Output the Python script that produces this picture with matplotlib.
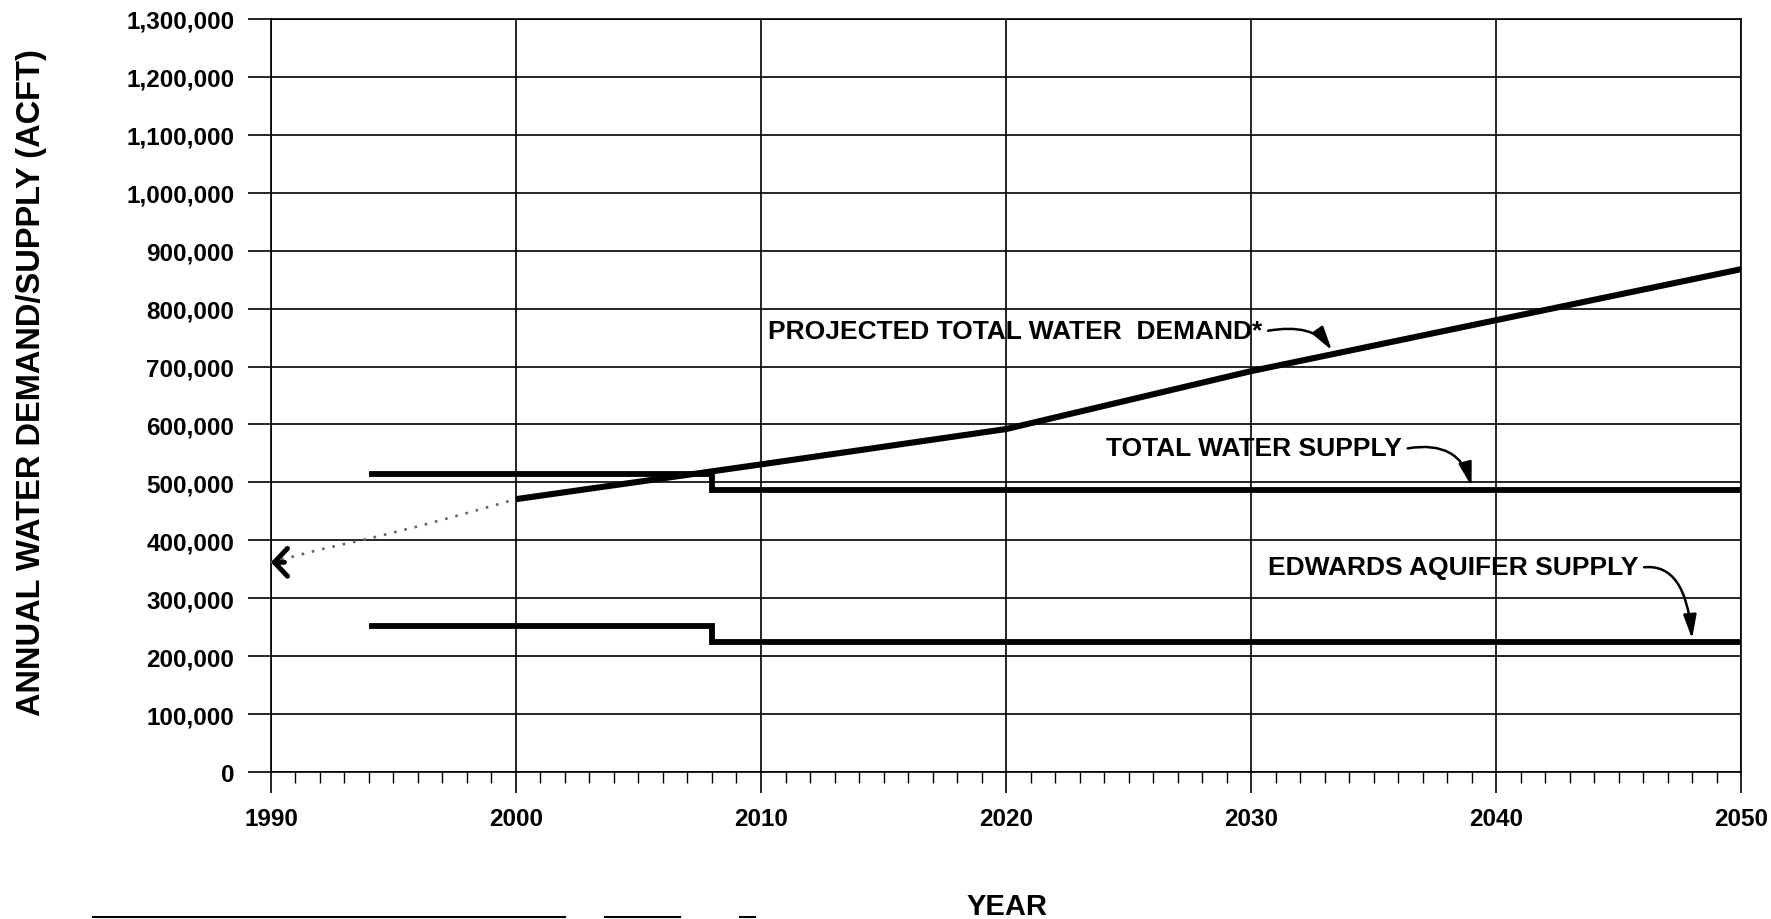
import matplotlib.pyplot as plt
from matplotlib.lines import Line2D
from matplotlib.ticker import MultipleLocator, FuncFormatter

# Values
demand_years = [2000, 2010, 2020, 2030, 2040, 2050]
demand = [471000, 531000, 592000, 692000, 780000, 868000]

history_years = [1990, 1992, 1994, 1996, 1998, 2000]
history = [362000, 384000, 403000, 424000, 447000, 471000]

supply_years = [1994, 2008, 2050]
total_supply = [515000, 487000, 487000]
edwards_supply = [252000, 224000, 224000]

plt.rcParams['font.family'] = ['Liberation Sans', 'DejaVu Sans']
plt.rcParams['font.weight'] = 'bold'
plt.rcParams['axes.labelweight'] = 'bold'

fig = plt.figure(figsize=(17.71, 9.2), dpi=100)
ax = fig.add_axes([0.1530, 0.1598, 0.8301, 0.8185])

ax.set_xlim(1990, 2050)
ax.set_ylim(0, 1300000)
ax.xaxis.set_major_locator(MultipleLocator(10))
ax.xaxis.set_minor_locator(MultipleLocator(1))
ax.yaxis.set_major_locator(MultipleLocator(100000))
ax.yaxis.set_major_formatter(FuncFormatter(lambda v, p: '{:,}'.format(int(v))))

ax.grid(which='major', color='black', lw=1.2, zorder=1)
for s in ax.spines.values():
    s.set_linewidth(1.2)
ax.tick_params(axis='x', which='major', direction='out', length=15, width=1.2,
               pad=10, labelsize=17.5)
ax.tick_params(axis='x', which='minor', direction='out', length=8, width=1.0)
ax.tick_params(axis='y', which='major', direction='out', length=16.5, width=1.2,
               pad=10, labelsize=17.5)

# Lines
ax.plot(history_years, history, color='#666666', lw=1.9, ls=(0, (1, 3)), zorder=3)
ax.plot(demand_years, demand, color='black', lw=4.4, solid_capstyle='butt', zorder=4)
ax.plot(supply_years, total_supply, color='black', lw=4.2, drawstyle='steps-post',
        solid_joinstyle='miter', solid_capstyle='butt', zorder=4)
ax.plot(supply_years, edwards_supply, color='black', lw=4.2, drawstyle='steps-post',
        solid_joinstyle='miter', solid_capstyle='butt', zorder=4)

# chevron at the 1990 end of the dotted extension
ax.annotate('', xy=(history_years[0], history[0]), xytext=(history_years[0] + 0.55, history[0]),
            arrowprops=dict(arrowstyle='->,head_length=0.47,head_width=0.5', lw=3.6,
                            color='black', mutation_scale=20, shrinkA=0, shrinkB=0))


# Callouts
def callout(text, tip, pos, angle_b):
    ax.annotate(text, xy=tip, xytext=pos, ha='left', va='center', fontsize=19, zorder=5,
                arrowprops=dict(arrowstyle='-|>,head_length=0.8,head_width=0.22',
                                color='black', lw=1.8, mutation_scale=18,
                                shrinkA=2, shrinkB=0, relpos=(1.0, 0.45),
                                connectionstyle='angle3,angleA=12,angleB=%d' % angle_b))


callout('PROJECTED TOTAL WATER  DEMAND*', (2033.3, 728000), (2010.3, 762000), 125)
callout('TOTAL WATER SUPPLY', (2039.0, 493000), (2024.1, 559000), 105)
callout('EDWARDS AQUIFER SUPPLY', (2048.0, 230000), (2030.7, 354000), 95)

ax.set_ylabel('ANNUAL WATER DEMAND/SUPPLY (ACFT)', fontsize=23.5)
ax.yaxis.set_label_coords(-0.163, 0.518)
ax.yaxis.label.set_va('center')
ax.set_xlabel('YEAR', fontsize=21)
ax.xaxis.set_label_coords(0.5007, -0.178)
ax.xaxis.label.set_va('center')

# scan rule along the bottom of the page
fig.add_artist(Line2D([93 / 1771, 565 / 1771], [2.5 / 920, 2.5 / 920], color='black', lw=1.5))
fig.add_artist(Line2D([605 / 1771, 680 / 1771], [2.5 / 920, 2.5 / 920], color='black', lw=1.5))
fig.add_artist(Line2D([740 / 1771, 755 / 1771], [2.5 / 920, 2.5 / 920], color='black', lw=1.5))

fig.savefig('out.png', dpi=100)
